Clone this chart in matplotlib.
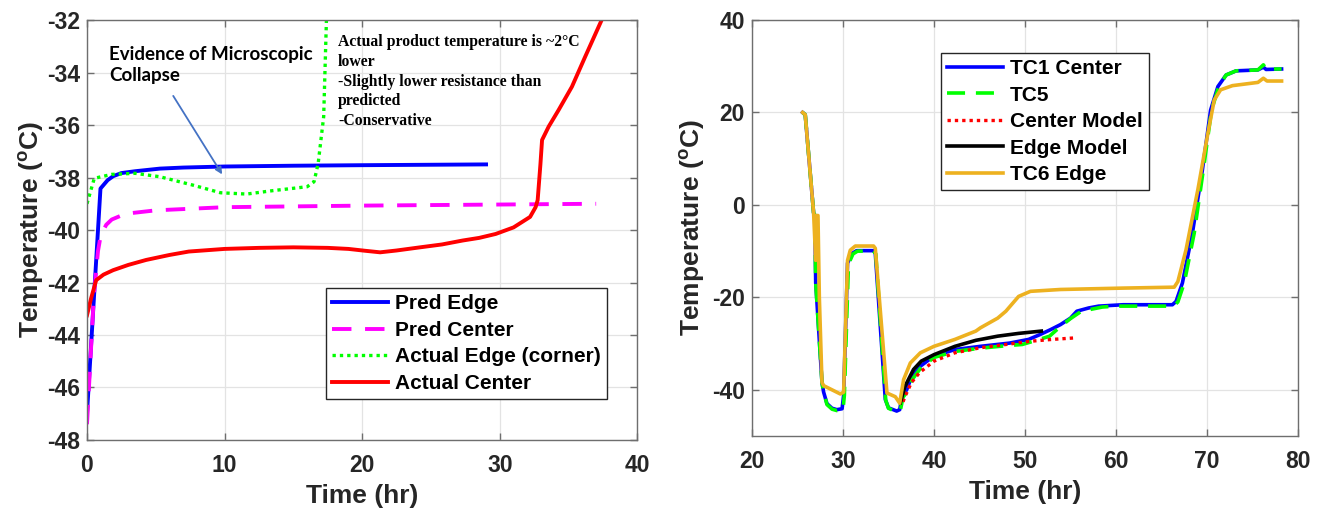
import matplotlib
matplotlib.use("Agg")
import matplotlib.pyplot as plt

plt.rcParams['font.family'] = ['Liberation Sans', 'DejaVu Sans']
plt.rcParams['font.weight'] = 'bold'
plt.rcParams['axes.unicode_minus'] = False

# ---- left panel data ----
pred_edge_t = [0, 0.98, 1.5, 1.9, 2.5, 3.5, 5.3, 7, 10, 15, 20, 29]
pred_edge_T = [-47.0, -38.42, -38.1, -37.95, -37.83, -37.76, -37.66, -37.62, -37.58, -37.55, -37.53, -37.5]

pred_center_t = [0, 0.5, 0.8, 1.0, 1.4, 1.8, 2.8, 5, 10, 20, 37]
pred_center_T = [-47.4, -42.5, -40.8, -40.2, -39.8, -39.6, -39.38, -39.25, -39.13, -39.07, -39.0]

actual_edge_t = [0, 0.53, 1.8, 3.5, 5.3, 7.7, 9.7, 11.6, 13.5, 16.0, 16.5, 16.8, 17.2, 17.4, 17.6]
actual_edge_T = [-39.0, -38.03, -37.88, -37.84, -37.97, -38.29, -38.58, -38.63, -38.5, -38.35, -38.16, -37.46, -35.68, -32.0, -31.0]

actual_center_t = [0, 0.3, 0.67, 1.2, 1.9, 3, 4.3, 6, 7.4, 10, 12.5, 15, 17.5, 19, 20.2, 21.3, 22.5,
                   24.2, 25.8, 27.3, 28.5, 29.7, 31, 32.2, 32.6, 32.75, 32.95, 33.07, 33.55, 34.27,
                   35.24, 36.2, 37.4, 37.7]
actual_center_T = [-43.25, -42.6, -41.91, -41.7, -41.53, -41.33, -41.14, -40.95, -40.82, -40.72, -40.68,
                   -40.66, -40.68, -40.72, -40.79, -40.85, -40.78, -40.66, -40.55, -40.4, -40.3, -40.15,
                   -39.9, -39.5, -39.13, -38.86, -37.5, -36.57, -36.06, -35.43, -34.54, -33.4, -32.0,
                   -31.6]

# ---- right panel data ----
tc1_t = [25.56, 25.85, 26.77, 26.9, 27.0, 27.69, 27.87, 28.24, 28.8, 29.33, 29.9, 30.07, 30.5, 31.0,
         31.5, 33.36, 33.55, 34.65, 35.0, 35.9, 36.23, 36.5, 37.0, 37.5, 38.5, 40.0, 42.3, 45.1, 48.3,
         50.4, 51.6, 52.8, 53.9, 55.0, 55.7, 57.0, 58.1, 60.8, 66.2, 66.6, 67.3, 68.4, 69.5, 70.4,
         71.2, 72.1, 73.2, 75.6, 76.2, 76.5, 78.2]
tc1_T = [20, 19.5, -1.73, -2.2, -16.8, -38.4, -40.5, -43.0, -44.0, -44.3, -44.1, -41.2, -12.6, -10.5,
         -9.9, -9.9, -10.5, -42.1, -43.9, -44.6, -44.3, -41.4, -40, -37.4, -34.9, -32.7, -31.3, -30.6,
         -29.9, -29.1, -28.1, -27.0, -25.9, -24.5, -23, -22.3, -21.9, -21.6, -21.6, -20.9, -16.9,
         -6.1, 7.6, 20.5, 25.6, 28.1, 29.0, 29.2, 29.8, 29.3, 29.4]

tc5_t = [25.56, 25.85, 26.77, 26.9, 27.0, 27.69, 27.87, 28.24, 28.8, 29.33, 30.0, 30.15, 30.6, 31.1,
         31.6, 33.36, 33.6, 34.7, 35.0, 35.9, 36.3, 36.6, 37.1, 37.6, 38.5, 40.0, 42.3, 45.1, 48.3,
         49.7, 51.6, 52.7, 53.9, 55.0, 56.2, 58.5, 60.0, 66.3, 66.8, 67.5, 68.6, 69.6, 70.5, 71.3,
         72.1, 73.2, 75.6, 76.2, 76.5, 78.2]
tc5_T = [20, 19.5, -1.73, -2.2, -16.8, -38.4, -40.5, -43.2, -44.2, -44.5, -44.3, -41.2, -12.8, -10.6,
         -10.0, -10.0, -10.6, -42.3, -44.0, -44.8, -44.5, -41.6, -40.3, -37.8, -35.4, -33.0, -31.7,
         -31.0, -30.4, -30.2, -29.1, -28.4, -26.3, -24.6, -23, -22.1, -21.9, -21.9, -21.0, -16.9,
         -6.1, 7.6, 20.5, 25.6, 28.1, 29.0, 29.2, 30.3, 29.4, 29.4]

center_model_t = [36.6, 36.8, 37.5, 38.4, 40.0, 42.3, 45.1, 47.9, 50.6, 53.0, 55.3]
center_model_T = [-42.6, -41.5, -38.5, -36.3, -33.8, -32.0, -30.9, -30.2, -29.5, -29.1, -28.8]

edge_model_t = [36.3, 36.8, 37.75, 38.6, 40.0, 42.3, 44.6, 47.0, 49.3, 51.8]
edge_model_T = [-42.8, -39.3, -35.6, -33.8, -32.4, -30.6, -29.3, -28.4, -27.8, -27.3]

tc6_t = [25.56, 25.85, 26.77, 27.0, 27.05, 27.25, 27.4, 27.69, 27.87, 29.7, 30.07, 30.5, 30.8, 31.35,
         33.36, 33.55, 34.83, 35.75, 36.23, 36.66, 37.4, 38.5, 40.0, 42.3, 44.6, 45.1, 47.0, 47.9,
         49.3, 50.6, 53.9, 60.8, 66.4, 66.8, 67.7, 69.0, 70.1, 70.8, 71.5, 72.8, 75.6, 76.2, 76.6, 78.2]
tc6_T = [20, 19.5, -1.73, -12.0, -2.3, -2.3, -20.0, -38.4, -39.1, -40.9, -40.5, -12.0, -9.8, -8.9,
         -8.9, -9.4, -40.7, -41.5, -42.9, -37.8, -34.2, -32.0, -30.6, -29.1, -27.3, -26.6, -24.5, -23.0,
         -19.8, -18.7, -18.3, -18.0, -17.8, -16.6, -9.7, 3.3, 15.5, 22.7, 24.9, 25.8, 26.5, 27.4, 26.8, 26.8]

left_ticks_x = [0, 10, 20, 30, 40]
left_ticks_y = [-48, -46, -44, -42, -40, -38, -36, -34, -32]
right_ticks_x = [20, 30, 40, 50, 60, 70, 80]
right_ticks_y = [-40, -20, 0, 20, 40]

fig = plt.figure(figsize=(13.2, 5.09), dpi=100)
ax1 = fig.add_axes([0.0659, 0.1356, 0.417, 0.825])
ax2 = fig.add_axes([0.5697, 0.1434, 0.4136, 0.8173])


def style(ax):
    ax.grid(True, color='#e3e3e3', lw=0.9)
    ax.set_axisbelow(True)
    for s in ax.spines.values():
        s.set_color('#6e6e6e')
        s.set_linewidth(1.0)
    ax.tick_params(direction='in', length=5, width=1, color='#6e6e6e', top=True, right=True,
                   labelsize=16.5, labelcolor='#262626')
    ax.tick_params(axis='x', pad=10)
    ax.tick_params(axis='y', pad=5)
    plt.setp(ax.get_xticklabels() + ax.get_yticklabels(), fontweight='bold')
    ax.set_xlabel('Time (hr)', fontsize=19, fontweight='bold', color='#262626', labelpad=5)
    ax.set_ylabel(r'Temperature ($\mathregular{^{o}}$C)', fontsize=19, fontweight='bold',
                  color='#262626')


# left
ax1.plot(pred_edge_t, pred_edge_T, color='#0000ff', lw=2.8, label='Pred Edge')
ax1.plot(pred_center_t, pred_center_T, color='#ff00ff', lw=2.8, dashes=(5, 3.5), label='Pred Center')
ax1.plot(actual_edge_t, actual_edge_T, color='#00ff00', lw=2.4, linestyle=(0, (1, 1.2)),
         label='Actual Edge (corner)')
ax1.plot(actual_center_t, actual_center_T, color='#ff0000', lw=2.8, label='Actual Center')
ax1.set_xlim(0, 40)
ax1.set_ylim(-48, -32)
ax1.set_xticks(left_ticks_x)
ax1.set_yticks(left_ticks_y)
style(ax1)
ax1.yaxis.set_label_coords(-0.075, 0.5)
ax1.legend(loc='lower right', bbox_to_anchor=(0.944, 0.097), borderaxespad=0, fontsize=15,
           handlelength=2.7, labelspacing=0.36, handletextpad=0.3, borderpad=0.3,
           fancybox=False, edgecolor='#262626', framealpha=1)
ax1.get_legend().get_frame().set_linewidth(1.0)

ax1.text(1.6, -33.0, 'Evidence of Microscopic\nCollapse', fontsize=13.5, fontweight='bold',
         family=['Lato', 'DejaVu Sans'], va='top', ha='left', linespacing=1.3)
ax1.annotate('', xy=(9.93, -37.97), xytext=(6.16, -34.8),
             arrowprops=dict(arrowstyle='-|>', color='#4472c4', lw=1.3, mutation_scale=10))
ax1.text(18.24, -32.55, 'Actual product temperature is ~2\u00b0C\nlower\n-Slightly lower resistance than\n'
         'predicted\n-Conservative', fontsize=11.3, fontweight='bold',
         family=['Liberation Serif', 'DejaVu Serif'], va='top', ha='left', linespacing=1.3)

# right
ax2.plot(tc1_t, tc1_T, color='#0000ff', lw=2.6, label='TC1 Center')
ax2.plot(tc5_t, tc5_T, color='#00ff00', lw=2.6, dashes=(5, 3), label='TC5')
ax2.plot(center_model_t, center_model_T, color='#ff0000', lw=2.4, linestyle=(0, (1, 1.2)),
         label='Center Model')
ax2.plot(edge_model_t, edge_model_T, color='#000000', lw=2.6, label='Edge Model')
ax2.plot(tc6_t, tc6_T, color='#edb120', lw=2.6, label='TC6 Edge')
ax2.set_xlim(20, 80)
ax2.set_ylim(-50, 40)
ax2.set_xticks(right_ticks_x)
ax2.set_yticks(right_ticks_y)
style(ax2)
ax2.yaxis.set_label_coords(-0.082, 0.5)
ax2.legend(loc='upper left', bbox_to_anchor=(0.346, 0.921), borderaxespad=0, fontsize=15,
           handlelength=2.7, labelspacing=0.36, handletextpad=0.3, borderpad=0.3,
           fancybox=False, edgecolor='#262626', framealpha=1)
ax2.get_legend().get_frame().set_linewidth(1.0)

fig.savefig('out.png', dpi=100)
